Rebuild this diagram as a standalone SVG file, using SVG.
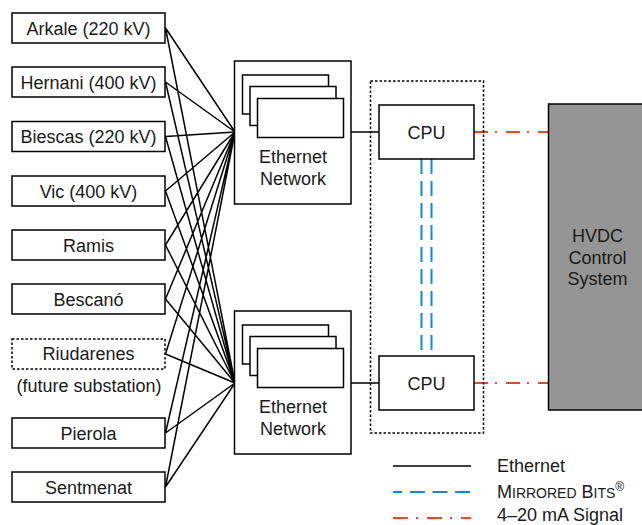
<svg xmlns="http://www.w3.org/2000/svg" width="642" height="525" viewBox="0 0 642 525">
<style>
text{font-family:"Liberation Sans",Arial,sans-serif;font-size:18px;fill:#1a1a1a;text-anchor:middle}
.box{fill:#fff;stroke:#000;stroke-width:1.5}
.dot{fill:none;stroke:#000;stroke-width:1.5;stroke-dasharray:2.5 2}
.eth{stroke:#000;stroke-width:1.5;fill:none}
.mb{stroke:#1B87C4;stroke-width:2;fill:none;stroke-dasharray:15 7}
.sig{stroke:#E04B2E;stroke-width:2;fill:none;stroke-dasharray:14 7 2 9}
.lt{text-anchor:start}
</style>
<g id="connectors">
<path class="eth" d="M165.5,28L235,132M165.5,28L235,383M165.5,82L235,132M165.5,82L235,383M165.5,136.5L235,132M165.5,136.5L235,383M165.5,191L235,132M165.5,191L235,383M165.5,245L235,132M165.5,245L235,383M165.5,299L235,132M165.5,299L235,383M165.5,354L235,132M165.5,354L235,383M165.5,433L235,132M165.5,433L235,383M165.5,487L235,132M165.5,487L235,383"/>
<path class="eth" d="M351,132H379M351,383H379"/>
<path class="mb" d="M421.5,159V356M431.5,159V356"/>
<path class="sig" d="M474,132H548M474,383H548"/>
</g>
<g id="arkale"><rect class="box" x="12" y="13" width="153" height="30"/><text x="88.5" y="34.5">Arkale (220 kV)</text></g>
<g id="hernani"><rect class="box" x="12" y="67" width="153" height="30"/><text x="88.5" y="88.5">Hernani (400 kV)</text></g>
<g id="biescas"><rect class="box" x="12" y="121.5" width="153" height="30"/><text x="88.5" y="143">Biescas (220 kV)</text></g>
<g id="vic"><rect class="box" x="12" y="176" width="153" height="30"/><text x="88.5" y="197.5">Vic (400 kV)</text></g>
<g id="ramis"><rect class="box" x="12" y="230" width="153" height="30"/><text x="88.5" y="251.5">Ramis</text></g>
<g id="bescano"><rect class="box" x="12" y="284" width="153" height="30"/><text x="88.5" y="305.5">Bescanó</text></g>
<g id="riudarenes"><rect class="dot" x="12" y="339" width="153" height="30"/><text x="88.5" y="360">Riudarenes</text><text x="89" y="392">(future substation)</text></g>
<g id="pierola"><rect class="box" x="12" y="418" width="153" height="30"/><text x="88.5" y="439.5">Pierola</text></g>
<g id="sentmenat"><rect class="box" x="12" y="472" width="153" height="30"/><text x="88.5" y="493.5">Sentmenat</text></g>
<g id="network-top">
<rect class="box" x="234.5" y="61" width="116.5" height="143"/>
<rect class="box" x="242.5" y="75" width="86" height="39"/>
<rect class="box" x="250" y="86.5" width="86" height="39"/>
<rect class="box" x="257.5" y="98.5" width="86" height="39"/>
<text x="293" y="163">Ethernet</text><text x="293" y="185">Network</text>
</g>
<g id="network-bottom">
<rect class="box" x="234.5" y="311" width="116.5" height="143"/>
<rect class="box" x="242.5" y="325" width="86" height="39"/>
<rect class="box" x="250" y="336.5" width="86" height="39"/>
<rect class="box" x="257.5" y="348.5" width="86" height="39"/>
<text x="293" y="413">Ethernet</text><text x="293" y="435">Network</text>
</g>
<g id="cpu-group"><rect class="dot" x="370.5" y="81" width="113" height="352"/></g>
<g id="cpu-top"><rect class="box" x="379" y="105" width="95" height="54"/><text x="426.5" y="138.5">CPU</text></g>
<g id="cpu-bottom"><rect class="box" x="379" y="356" width="95" height="54"/><text x="426.5" y="389.5">CPU</text></g>
<g id="hvdc"><rect x="548.5" y="104" width="100" height="306" fill="#959595" stroke="#000" stroke-width="1.5"/><text x="597.5" y="242">HVDC</text><text x="597.5" y="263.5">Control</text><text x="597.5" y="285">System</text></g>
<g id="legend">
<path class="eth" d="M393,466H471"/>
<path class="mb" d="M393,492H471" style="stroke-dasharray:9 8 15 7.5 15 7.5 15 7.5"/>
<path class="sig" d="M393,518H471" style="stroke-dasharray:15 8 2 9"/>
<text class="lt" x="497" y="472">Ethernet</text>
<text class="lt" x="497" y="498">M<tspan font-size="14">IRRORED</tspan> B<tspan font-size="14">ITS</tspan><tspan font-size="12" dy="-7">®</tspan></text>
<text class="lt" x="497" y="521">4–20 mA Signal</text>
</g>
</svg>
